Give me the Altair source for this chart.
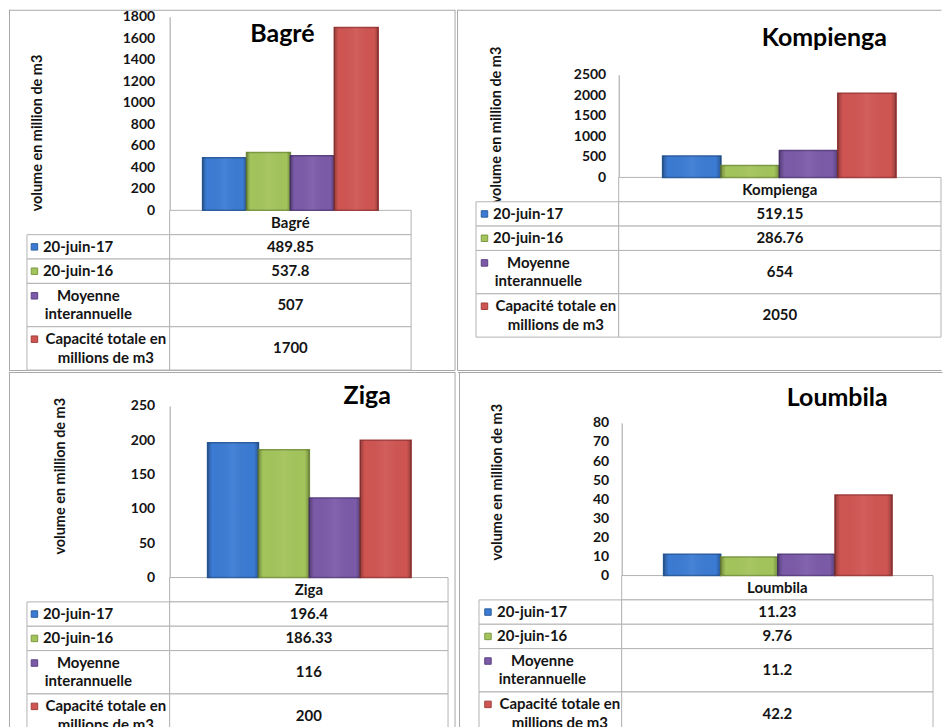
import altair as alt
import pandas as pd

# ---------------- data ----------------
reservoirs = ["Bagré", "Kompienga", "Ziga", "Loumbila"]
series = ["20-juin-17", "20-juin-16", "Moyenne interannuelle",
          "Capacité totale en millions de m3"]
series_lines = ["20-juin-17", "20-juin-16", "Moyenne\ninterannuelle",
                "Capacité totale en\nmillions de m3"]
bagre = [489.85, 537.8, 507, 1700]
kompienga = [519.15, 286.76, 654, 2050]
ziga = [196.4, 186.33, 116, 200]
loumbila = [11.23, 9.76, 11.2, 42.2]
axis_max = [1800, 2500, 250, 80]
axis_step = [200, 500, 50, 10]
y_title = "volume en million de m3"

# ---------------- style ----------------
FONT = "Lato"
TXT = "#141414"
GRID = "#b3b3b3"
FRAME = "#a8a8a8"
fills = ["#3b7bd3", "#a3c45b", "#7b5aa8", "#cf5552"]
strokes = ["#2c5e9f", "#7d9944", "#5b4282", "#a03e3c"]
FS = 15          # table font size
UNIT = 24.4      # px of a one-line table row
TWO = 1.78       # height of a two-line row, in row units
LH = 18.5        # line height of wrapped labels
CW = 7.0         # mean glyph advance of the label font

# ---------------- layout of the four frames ----------------
layouts = [
    dict(W=449, H=362, ax=161, y0=201, ytop=7, pad=15, atx=29, aty=123,
         bx=(194, 370), tx=274, ty=24, t0=201, xl=18, xa=161, xr=403,
         key=7.5, txt=16,
         frame=[("h", 0.5, 0, 447), ("v", 0.5, 0, 361.5), ("v", 447, 0, 361.5),
                ("h", 361.5, 0, 447)]),
    dict(W=486, H=362, ax=162, y0=168, ytop=65, pad=13, atx=40, aty=115,
         bx=(206, 440), tx=368, ty=28, t0=168, xl=19, xa=162, xr=485,
         key=8.5, txt=17,
         frame=[("h", 0.5, 0.5, 485.5), ("v", 0.5, 0, 361.5),
                ("h", 361.5, 0.5, 485.5)]),
    dict(W=449, H=357, ax=161, y0=206, ytop=34, pad=15, atx=52, aty=104,
         bx=(199, 403), tx=359, ty=24, t0=206, xl=18, xa=161, xr=440,
         key=7.5, txt=16,
         frame=[("h", 0.5, 0, 447), ("v", 0.5, 0, 357), ("v", 447, 0, 357)]),
    dict(W=486, H=357, ax=164, y0=204, ytop=51, pad=13, atx=40, aty=110,
         bx=(206, 435), tx=380, ty=26, t0=204, xl=21, xa=164, xr=476,
         key=9, txt=18,
         frame=[("h", 0.5, 0, 485.5), ("v", 1.5, 0, 357)]),
]

color_scale = alt.Scale(domain=series, range=fills)
stroke_scale = alt.Scale(domain=series, range=strokes)
bevel = alt.Gradient(
    gradient="linear", x1=0, x2=1, y1=0, y2=0,
    stops=[alt.GradientStop(color="rgba(0,0,0,0.28)", offset=0),
           alt.GradientStop(color="rgba(0,0,0,0)", offset=0.09),
           alt.GradientStop(color="rgba(255,255,255,0.06)", offset=0.5),
           alt.GradientStop(color="rgba(0,0,0,0)", offset=0.91),
           alt.GradientStop(color="rgba(0,0,0,0.28)", offset=1)])


def panel(name, vals, ymax, ystep, L):
    W, H = L["W"], L["H"]
    layers = []

    # frame lines
    one = pd.DataFrame({"k": [0]})
    for f in L["frame"]:
        if f[0] == "h":
            enc = dict(y=alt.value(f[1]), x=alt.value(f[2]), x2=alt.value(f[3]))
        else:
            enc = dict(x=alt.value(f[1]), y=alt.value(f[2]), y2=alt.value(f[3]))
        layers.append(alt.Chart(one).mark_rule(color=FRAME, strokeWidth=1).encode(**enc))

    # table geometry (in row units)
    nlines = [s.count("\n") + 1 for s in series_lines]
    heights = [1.0] + [1.0 if n == 1 else TWO for n in nlines]
    tops = [sum(heights[:i]) for i in range(5)]
    total = sum(heights)
    tys = alt.Scale(domain=[0, total], range=[L["t0"], L["t0"] + total * UNIT],
                    nice=False, zero=False)
    txs = alt.Scale(domain=[0, 1, 2], range=[L["xl"], L["xa"], L["xr"]],
                    nice=False, zero=False)
    colw = L["xa"] - L["xl"]

    cells = [dict(c0=1, c1=2, top=tops[0], bot=tops[0] + heights[0])]
    for r in range(1, 5):
        cells.append(dict(c0=0, c1=1, top=tops[r], bot=tops[r] + heights[r]))
        cells.append(dict(c0=1, c1=2, top=tops[r], bot=tops[r] + heights[r]))
    cells_df = pd.DataFrame(cells)
    layers.append(
        alt.Chart(cells_df).mark_rect(fill="white", stroke=GRID, strokeWidth=1, clip=True).encode(
            x=alt.X("c0:Q", scale=txs, axis=None),
            x2="c1:Q",
            y=alt.Y("top:Q", scale=tys, axis=None),
            y2="bot:Q",
        )
    )

    rows = pd.DataFrame({
        "serie": series,
        "libelle": series_lines,
        "lignes": nlines,
        "valeur": [f"{v:g}" for v in vals],
        "mid": [tops[i + 1] + heights[i + 1] / 2 for i in range(4)],
    })
    rows["cx"] = 1.5
    rows["first_y"] = rows["mid"] - (rows["lignes"] - 1) * LH / 2 / UNIT
    rows["key_x"] = L["key"] / colw
    rows["lab_x"] = [
        (L["txt"] + 0.5 * max(len(p) for p in s.split("\n")) * CW) / colw
        for s in series_lines
    ]
    rows["zero"] = 0.0

    header = pd.DataFrame({"nom": [name], "cx": [1.5], "mid": [heights[0] / 2]})
    txt_kw = dict(font=FONT, fontWeight="bold", fontSize=FS, color=TXT,
                  baseline="middle", clip=True)
    layers.append(
        alt.Chart(header).mark_text(align="center", **txt_kw).encode(
            x=alt.X("cx:Q", scale=txs, axis=None),
            y=alt.Y("mid:Q", scale=tys, axis=None),
            text="nom:N",
        )
    )
    layers.append(
        alt.Chart(rows).mark_text(align="center", **txt_kw).encode(
            x=alt.X("cx:Q", scale=txs, axis=None),
            y=alt.Y("mid:Q", scale=tys, axis=None),
            text="valeur:N",
        )
    )
    layers.append(
        alt.Chart(rows).transform_filter("datum.lignes == 1").mark_text(
            align="left", dx=L["txt"], **txt_kw).encode(
            x=alt.X("zero:Q", scale=txs, axis=None),
            y=alt.Y("mid:Q", scale=tys, axis=None),
            text="libelle:N",
        )
    )
    layers.append(
        alt.Chart(rows).transform_filter("datum.lignes > 1").mark_text(
            align="center", lineBreak="\n", lineHeight=LH, **txt_kw).encode(
            x=alt.X("lab_x:Q", scale=txs, axis=None),
            y=alt.Y("first_y:Q", scale=tys, axis=None),
            text="libelle:N",
        )
    )
    layers.append(
        alt.Chart(rows).mark_square(size=42, filled=True, opacity=1, strokeWidth=1, clip=True).encode(
            x=alt.X("key_x:Q", scale=txs, axis=None),
            y=alt.Y("first_y:Q", scale=tys, axis=None),
            color=alt.Color("serie:N", scale=color_scale, legend=None),
            stroke=alt.Stroke("serie:N", scale=stroke_scale, legend=None),
        )
    )

    # bars
    bars_df = pd.DataFrame({"serie": series, "volume": vals})
    xb = alt.X("serie:N", sort=series, axis=None,
               scale=alt.Scale(domain=series, range=list(L["bx"]),
                               paddingInner=0, paddingOuter=0))
    yscale = alt.Scale(domain=[0, ymax], range=[L["y0"], L["ytop"]],
                       nice=False, zero=True)
    layers.append(
        alt.Chart(bars_df).mark_bar(strokeWidth=1.5).encode(
            x=xb,
            y=alt.Y("volume:Q", scale=yscale,
                    axis=alt.Axis(
                        orient="left", offset=-L["ax"],
                        values=list(range(0, ymax + 1, ystep)), format="d",
                        grid=False, ticks=False, tickSize=0,
                        domainColor="#a0a0a0", domainWidth=1,
                        labelPadding=L["pad"], labelFont=FONT, labelFontSize=14,
                        labelFontWeight="bold", labelColor=TXT, labelOverlap=False,
                        title=y_title, titleFont=FONT, titleFontSize=14.5,
                        titleFontWeight="bold", titleColor=TXT, titleAngle=270,
                        titleAlign="center", titleBaseline="middle",
                        titleX=L["atx"] - L["ax"], titleY=L["aty"],
                    )),
            color=alt.Color("serie:N", scale=color_scale, legend=None),
            stroke=alt.Stroke("serie:N", scale=stroke_scale, legend=None),
        )
    )
    # bevel shading over the bars
    layers.append(
        alt.Chart(bars_df).mark_bar(fill=bevel, strokeWidth=0).encode(
            x=alt.X("serie:N", sort=series, axis=None,
                    scale=alt.Scale(domain=series, range=list(L["bx"]),
                                    paddingInner=0, paddingOuter=0)),
            y=alt.Y("volume:Q", scale=yscale, axis=None),
        )
    )

    # reservoir title
    layers.append(
        alt.Chart(pd.DataFrame({"nom": [name]})).mark_text(
            font=FONT, fontWeight="bold", fontSize=25, color="#000000",
            align="center", baseline="middle").encode(
            text="nom:N", x=alt.value(L["tx"]), y=alt.value(L["ty"]))
    )

    return alt.layer(*layers).resolve_scale(
        x="independent", y="independent"
    ).properties(width=W, height=H)


data = [bagre, kompienga, ziga, loumbila]
panels = [panel(reservoirs[i], data[i], axis_max[i], axis_step[i], layouts[i])
          for i in range(4)]

top = alt.hconcat(panels[0], panels[1], spacing=0)
bottom = alt.hconcat(panels[2], panels[3], spacing=0)
chart = alt.vconcat(top, bottom, spacing=0).properties(
    padding=0, background="white"
).configure_view(stroke=None).configure_concat(spacing=0)

chart.save("out.html", embed_options={"renderer": "svg", "actions": False})
